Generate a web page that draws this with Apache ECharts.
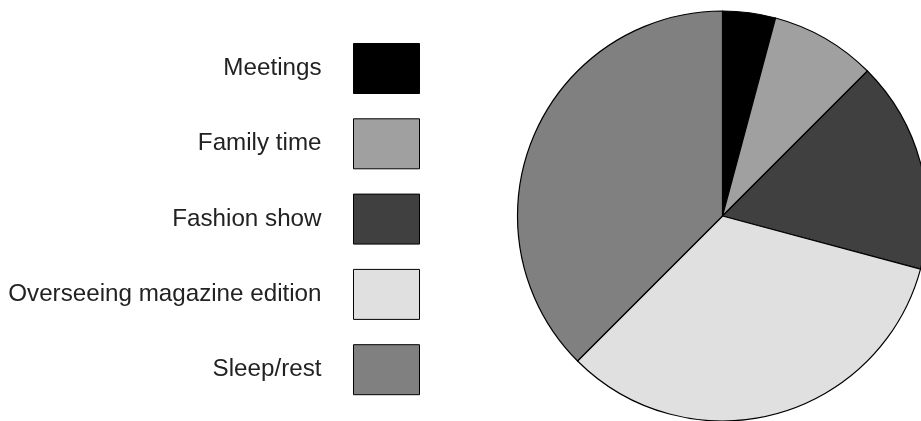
<!DOCTYPE html>
<html>
<head>
<meta charset="utf-8">
<script src="https://cdn.jsdelivr.net/npm/echarts@6/dist/echarts.min.js"></script>
<style>
  html, body { margin: 0; padding: 0; background: #fff; }
  #chart { width: 921px; height: 421px; }
</style>
</head>
<body>
<div id="chart"></div>
<script>
// Hours of a day spent on each activity
const activities = ['Meetings', 'Family time', 'Fashion show', 'Overseeing magazine edition', 'Sleep/rest'];
const hours = [1, 2, 4, 8, 9];
const shades = ['#000000', '#a0a0a0', '#404040', '#e0e0e0', '#808080'];

const chart = echarts.init(document.getElementById('chart'), null, { renderer: 'canvas' });

chart.setOption({
  animation: false,
  backgroundColor: '#ffffff',
  legend: {
    orient: 'vertical',
    align: 'right',
    right: 496,
    top: 38,
    itemWidth: 66,
    itemHeight: 50,
    itemGap: 24.3,
    icon: 'rect',
    selectedMode: false,
    data: activities,
    itemStyle: { borderColor: '#000', borderWidth: 1 },
    textStyle: {
      fontFamily: 'Liberation Sans, Arial, Helvetica, sans-serif',
      fontSize: 24.2,
      color: '#222222',
      padding: [0, 27, 20, 0]
    }
  },
  series: [{
    type: 'pie',
    center: [722.5, 216],
    radius: 205,
    startAngle: 90,
    clockwise: true,
    silent: true,
    label: { show: false },
    labelLine: { show: false },
    itemStyle: { borderColor: '#000000', borderWidth: 1.2 },
    data: activities.map((name, i) => ({
      name: name,
      value: hours[i],
      itemStyle: { color: shades[i] }
    }))
  }]
});
</script>
</body>
</html>
